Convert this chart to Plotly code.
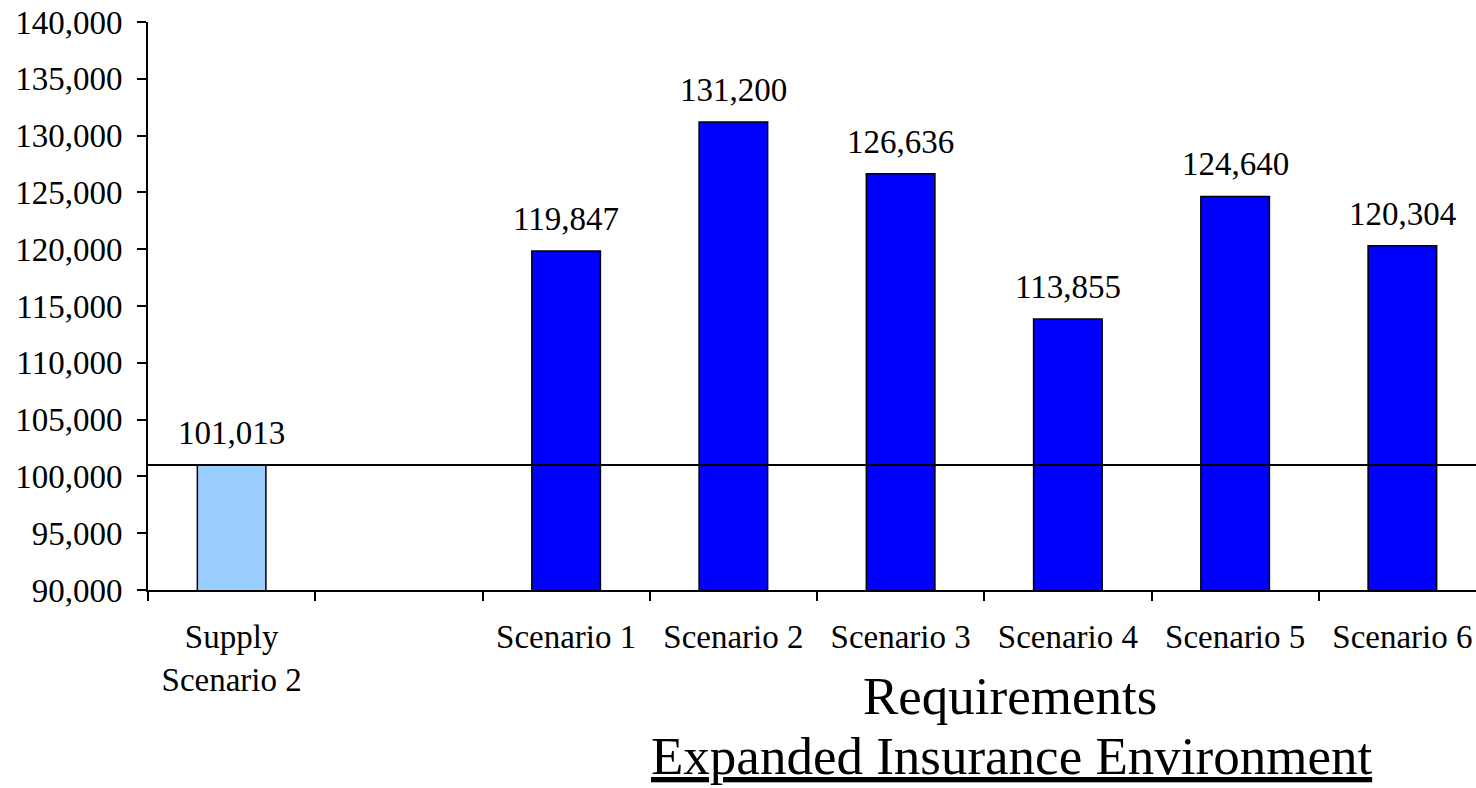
import plotly.graph_objects as go

# Categories along the x axis (an empty slot separates supply from requirements)
categories = ["Supply<br>Scenario 2", " ", "Scenario 1", "Scenario 2", "Scenario 3",
              "Scenario 4", "Scenario 5", "Scenario 6"]
values = [101013, None, 119847, 131200, 126636, 113855, 124640, 120304]
bar_colors = ["#99CCFF", "#0000FF", "#0000FF", "#0000FF", "#0000FF",
              "#0000FF", "#0000FF", "#0000FF"]
supply_level = 101013
y_ticks = list(range(90000, 140001, 5000))

FONT = "Times New Roman, Liberation Serif, serif"
W, H = 1476, 788
ML, MT, MB = 148, 22, 198
PH = H - MT - MB
TXT = 33

fig = go.Figure()
fig.add_trace(go.Bar(
    x=categories, y=values,
    marker=dict(color=bar_colors, line=dict(color="black", width=1.5)),
    width=0.41, showlegend=False, hoverinfo="skip",
))

# value labels above each bar
for c, v in zip(categories, values):
    if v is None:
        continue
    fig.add_annotation(x=c, y=v, text=f"{v:,}", showarrow=False,
                       yanchor="bottom", yshift=12,
                       font=dict(family=FONT, size=TXT, color="black"))

# supply reference line across the plot
fig.add_shape(type="line", xref="paper", x0=0, x1=1, yref="y",
              y0=supply_level, y1=supply_level,
              line=dict(color="black", width=2))

# axis titles drawn as annotations
fig.add_annotation(xref="paper", yref="paper", x=(1010 - ML) / (W - ML), y=(H - MB - 696) / PH,
                   text="Requirements", showarrow=False, xanchor="center", yanchor="middle",
                   font=dict(family=FONT, size=53, color="black"))
fig.add_annotation(xref="paper", yref="paper", x=(1011 - ML) / (W - ML), y=(H - MB - 787) / PH,
                   text="<u>Expanded Insurance Environment</u>", showarrow=False,
                   xanchor="center", yanchor="bottom",
                   font=dict(family=FONT, size=53, color="black"))

cat_w = 167.25
fig.update_layout(
    width=W, height=H,
    margin=dict(l=ML, r=0, t=MT, b=MB, pad=0),
    plot_bgcolor="white", paper_bgcolor="white",
    font=dict(family=FONT, size=TXT, color="black"),
    xaxis=dict(
        type="category", range=[-0.5, -0.5 + (W - ML) / cat_w],
        showline=True, linecolor="black", linewidth=2,
        ticks="outside", tickson="boundaries", ticklen=9, tickwidth=1.5, tickcolor="black",
        showgrid=False, tickangle=0, fixedrange=True,
        ticklabelstandoff=16,
    ),
    yaxis=dict(
        range=[90000, 140000], tickvals=y_ticks,
        ticktext=[f"{t:,}" for t in y_ticks],
        showline=True, linecolor="black", linewidth=2,
        ticks="outside", ticklen=9, tickwidth=1.5, tickcolor="black",
        showgrid=False, zeroline=False, fixedrange=True,
        ticklabelstandoff=8,
    ),
)

fig.write_html("out.html")
